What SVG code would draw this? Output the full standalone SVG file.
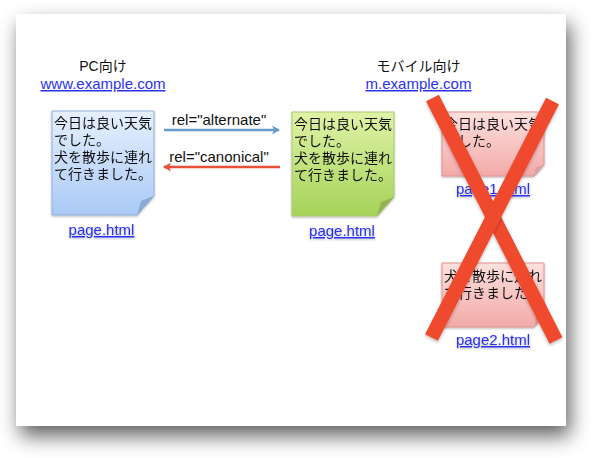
<svg xmlns="http://www.w3.org/2000/svg" width="596" height="458" viewBox="0 0 596 458">
<style>
text{font-family:"Liberation Sans","Noto Sans CJK JP",sans-serif;font-size:15px;fill:#111}
.jp{font-family:"Noto Sans CJK JP",sans-serif;font-size:14px}
.h{font-size:14px}
.m{text-anchor:middle}
.link{fill:#2a32f0;text-decoration:underline}
.note{stroke-width:1}
.x{stroke:#ef4a2f;stroke-width:14.500;fill:none;filter:url(#xs)}
</style>
<defs>
<filter id="page" x="-10%" y="-10%" width="120%" height="125%"><feGaussianBlur stdDeviation="10"/></filter>
<filter id="ss" x="-10%" y="-10%" width="120%" height="120%"><feDropShadow dx="0" dy="1" stdDeviation="1" flood-color="#000" flood-opacity=".3"/></filter>
<filter id="xs" x="-10%" y="-10%" width="120%" height="120%"><feDropShadow dx="0" dy="2" stdDeviation="1.5" flood-color="#000" flood-opacity=".25"/></filter>
<linearGradient id="blue" x1="0" y1="0" x2="0" y2="1"><stop offset="0" stop-color="#e6f0fd"/><stop offset="1" stop-color="#a9c9f5"/></linearGradient>
<linearGradient id="green" x1="0" y1="0" x2="0" y2="1"><stop offset="0" stop-color="#dff3a6"/><stop offset="1" stop-color="#a5d258"/></linearGradient>
<linearGradient id="pink" x1="0" y1="0" x2="0" y2="1"><stop offset="0" stop-color="#fce0dd"/><stop offset="1" stop-color="#f2aaa8"/></linearGradient>
<marker id="ab" markerWidth="8" markerHeight="9" refX="7" refY="4.500" orient="auto" markerUnits="userSpaceOnUse"><path d="M0 0L8 4.500L0 9L2 4.500Z" fill="#6a9bcf"/></marker>
<marker id="ar" markerWidth="8" markerHeight="9" refX="7" refY="4.500" orient="auto" markerUnits="userSpaceOnUse"><path d="M0 0L8 4.500L0 9L2 4.500Z" fill="#e8503a"/></marker>
</defs>
<rect id="page-shadow" x="20" y="24" width="550" height="412" fill="#000" fill-opacity=".62" filter="url(#page)"/>
<rect id="page-sheet" x="16" y="14" width="550" height="412" fill="#fff"/>

<g id="pc-heading">
<text class="m h" x="103" y="71">PC向け</text>
<text class="m link" x="103" y="89">www.example.com</text>
</g>
<g id="mobile-heading">
<text class="m h" x="418.500" y="71">モバイル向け</text>
<text class="m link" x="418.500" y="89">m.example.com</text>
</g>

<g id="pc-page" filter="url(#ss)">
<path class="note" d="M52 111H154V196L137 215H52Z" fill="url(#blue)" stroke="#8fb2dc"/>
<path d="M154 196L137 215L141 201Z" fill="#8aa9d4"/>
<text class="jp"><tspan x="54" y="128">今日は良い天気</tspan><tspan x="54" y="145">でした。</tspan><tspan x="54" y="162">犬を散歩に連れ</tspan><tspan x="54" y="179">て行きました。</tspan></text>
<text class="m link" x="101.500" y="235">page.html</text>
</g>
<g id="mobile-page" filter="url(#ss)">
<path class="note" d="M292 112H394V197L377 216H292Z" fill="url(#green)" stroke="#a8c878"/>
<path d="M394 197L377 216L381 202Z" fill="#93b257"/>
<text class="jp"><tspan x="294" y="129">今日は良い天気</tspan><tspan x="294" y="146">でした。</tspan><tspan x="294" y="163">犬を散歩に連れ</tspan><tspan x="294" y="180">て行きました。</tspan></text>
<text class="m link" x="342" y="236">page.html</text>
</g>
<g id="page1" filter="url(#ss)">
<path class="note" d="M442 112H544V165L534 176H442Z" fill="url(#pink)" stroke="#e09290"/>
<path d="M544 165L534 176L536 167Z" fill="#dca0a0"/>
<text class="jp"><tspan x="444" y="129">今日は良い天気</tspan><tspan x="444" y="146">でした。</tspan></text>
<text class="m link" x="493" y="194">page1.html</text>
</g>
<g id="page2" filter="url(#ss)">
<path class="note" d="M442 263H544V316L534 327H442Z" fill="url(#pink)" stroke="#e09290"/>
<path d="M544 316L534 327L536 318Z" fill="#dca0a0"/>
<text class="jp"><tspan x="444" y="281">犬を散歩に連れ</tspan><tspan x="444" y="298">て行きました。</tspan></text>
<text class="m link" x="493" y="345">page2.html</text>
</g>

<g id="connectors">
<path d="M164 130H279" stroke="#6a9bcf" stroke-width="2.500" fill="none" marker-end="url(#ab)"/>
<path d="M280 167H164" stroke="#e8503a" stroke-width="2.500" fill="none" marker-end="url(#ar)"/>
<text class="m" x="219" y="125">rel="alternate"</text>
<text class="m" x="219" y="162">rel="canonical"</text>
</g>

<g id="cross">
<path class="x" d="M432.500 98L556 340.500"/>
<path class="x" d="M552.500 101L431.500 337.500"/>
</g>
</svg>
